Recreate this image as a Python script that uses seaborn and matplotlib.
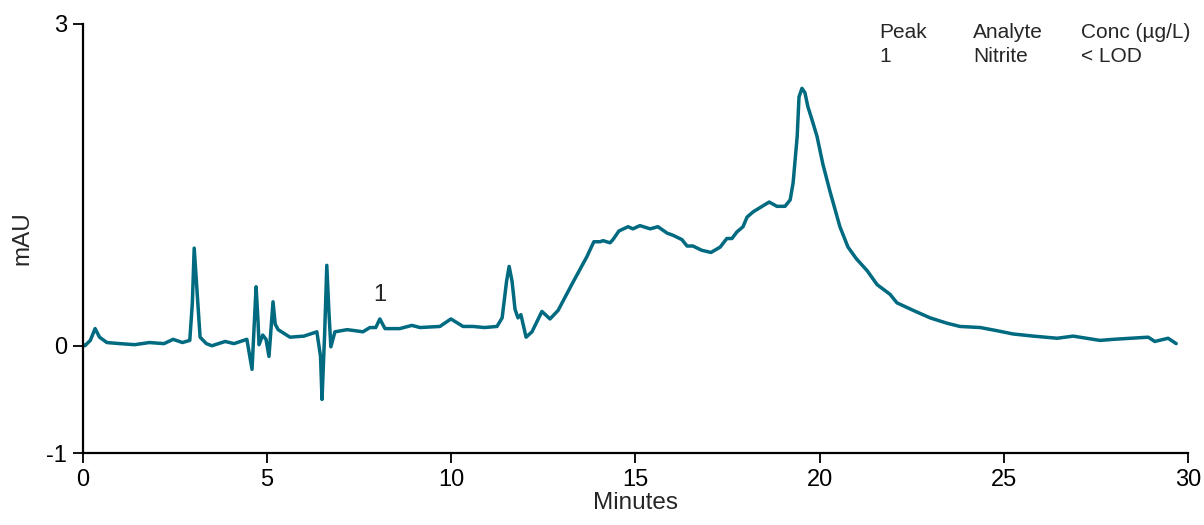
import matplotlib
matplotlib.use("Agg")
import matplotlib.pyplot as plt
import seaborn as sns
import pandas as pd

minutes = [0.0, 0.05, 0.2, 0.33, 0.45, 0.65, 1.0, 1.4, 1.8, 2.2, 2.45, 2.7, 2.9, 2.97, 3.02, 3.08, 3.18, 3.35, 3.5,
           3.86, 4.1, 4.45, 4.59, 4.65, 4.7, 4.75, 4.78, 4.88, 4.97, 5.05, 5.16, 5.22, 5.3, 5.62, 6.0, 6.35, 6.45,
           6.49, 6.56, 6.62, 6.68, 6.73, 6.84, 7.17, 7.4, 7.6, 7.79, 7.95, 8.06, 8.2, 8.6, 8.93, 9.15, 9.69, 9.99,
           10.32, 10.59, 10.9, 11.24, 11.38, 11.5, 11.57, 11.65, 11.73, 11.81, 11.89, 12.03, 12.19, 12.46, 12.68,
           12.9, 13.3, 13.68, 13.87, 14.04, 14.12, 14.31, 14.39, 14.55, 14.8, 14.93, 15.12, 15.4, 15.61, 15.86,
           16.02, 16.26, 16.4, 16.56, 16.8, 17.05, 17.3, 17.48, 17.62, 17.75, 17.92, 18.03, 18.2, 18.44, 18.63,
           18.84, 19.06, 19.2, 19.28, 19.39, 19.44, 19.52, 19.6, 19.68, 19.79, 19.93, 20.09, 20.28, 20.55, 20.77,
           21.0, 21.29, 21.56, 21.91, 22.1, 22.54, 23.0, 23.46, 23.81, 24.36, 24.82, 25.25, 25.8, 26.45, 26.88,
           27.61, 27.97, 28.43, 28.92, 29.1, 29.46, 29.68]
mau = [0.01, 0.0, 0.05, 0.16, 0.08, 0.03, 0.02, 0.01, 0.03, 0.02, 0.06, 0.03, 0.05, 0.4, 0.91, 0.6, 0.08, 0.02, 0.0,
       0.04, 0.02, 0.06, -0.22, 0.2, 0.55, 0.25, 0.01, 0.10, 0.06, -0.10, 0.41, 0.2, 0.15, 0.08, 0.09, 0.13, -0.1,
       -0.50, 0.1, 0.75, 0.3, -0.01, 0.13, 0.15, 0.14, 0.13, 0.17, 0.17, 0.25, 0.16, 0.16, 0.19, 0.17, 0.18, 0.25,
       0.18, 0.18, 0.17, 0.18, 0.26, 0.6, 0.74, 0.6, 0.34, 0.26, 0.29, 0.08, 0.13, 0.32, 0.25,
       0.33, 0.59, 0.83, 0.97, 0.97, 0.98, 0.96, 0.99, 1.07, 1.11, 1.09, 1.12, 1.09, 1.11, 1.05,
       1.03, 0.99, 0.93, 0.93, 0.89, 0.87, 0.92, 1.0, 1.0, 1.06, 1.11, 1.20, 1.25, 1.30, 1.34,
       1.30, 1.30, 1.36, 1.52, 1.95, 2.32, 2.40, 2.36, 2.23, 2.11, 1.95, 1.69, 1.44, 1.11, 0.92,
       0.81, 0.70, 0.57, 0.48, 0.40, 0.33, 0.26, 0.21, 0.18, 0.17, 0.14, 0.11, 0.09, 0.07, 0.09,
       0.05, 0.06, 0.07, 0.08, 0.04, 0.07, 0.02]

x_ticks = [0, 5, 10, 15, 20, 25, 30]
y_ticks = [-1, 0, 3]
peak_label = "1"
peak_time = 8.06
peak_height = 0.25
table_rows = [["Peak", "Analyte", "Conc (µg/L)"], ["1", "Nitrite", "< LOD"]]

sns.set_style("ticks")
plt.rcParams['font.family'] = ['Liberation Sans', 'DejaVu Sans']
plt.rcParams['axes.unicode_minus'] = False

df = pd.DataFrame({"Minutes": minutes, "mAU": mau})

fig = plt.figure(figsize=(12.04, 5.25), dpi=100)
ax = fig.add_axes([0.0689, 0.1371, 0.9178, 0.8172])
sns.lineplot(data=df, x="Minutes", y="mAU", ax=ax, color="#006a80", linewidth=2.5)

ax.set_xlim(0, 30)
ax.set_ylim(-1, 3)
ax.set_xticks(x_ticks)
ax.set_yticks(y_ticks)
ax.tick_params(axis="both", labelsize=17, width=1.3, length=7.5, pad=4, color="black", labelcolor="black")
for s in ["top", "right"]:
    ax.spines[s].set_visible(False)
for s in ["left", "bottom"]:
    ax.spines[s].set_linewidth(1.6)
    ax.spines[s].set_color("black")
ax.set_xlabel("Minutes", fontsize=17.5, labelpad=1)
ax.set_ylabel("mAU", fontsize=17.5, labelpad=9)

ax.annotate(peak_label, xy=(peak_time, peak_height), xytext=(0, 9), textcoords="offset points",
            ha="center", va="bottom", fontsize=17)

col_x = [879, 973, 1081]
row_y = [33, 57]
for r, row in enumerate(table_rows):
    for c, txt in enumerate(row):
        fig.text(col_x[c] / 1204, 1 - row_y[r] / 525, txt, fontsize=15, ha="left", va="center")

fig.savefig("out.png", dpi=100)
